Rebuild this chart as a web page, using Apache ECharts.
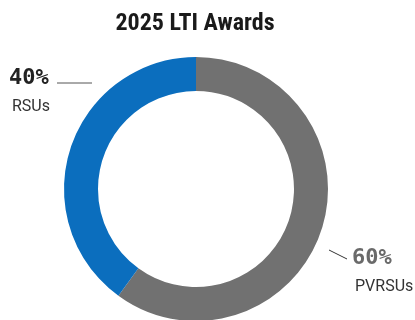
<!DOCTYPE html>
<html><head><meta charset="utf-8">
<script src="https://cdn.jsdelivr.net/npm/echarts@6/dist/echarts.min.js"></script>
<style>html,body{margin:0;padding:0;background:#fff}#c{width:415px;height:320px}</style>
</head><body><div id="c"></div>
<script>
const title = "2025 LTI Awards";
const categories = ["PVRSUs", "RSUs"];
const values = [60, 40];
const colors = ["#717171", "#0b6ebe"];
const pctColors = ["#6a6a6a", "#222222"];

const chart = echarts.init(document.getElementById('c'));
chart.setOption({
  animation: false,
  title: {
    text: title, left: 190, top: 7, textAlign: 'center',
    textStyle: {fontFamily: '"Liberation Sans Narrow", "Roboto Condensed", sans-serif', fontWeight: 'bold', fontSize: 24, color: '#1a1a1a'}
  },
  series: [{
    type: 'pie',
    center: [196, 189],
    radius: [98, 132],
    startAngle: 90,
    clockwise: true,
    silent: true,
    data: categories.map((c, i) => ({
      name: c, value: values[i],
      itemStyle: {color: colors[i]},
      label: {
        formatter: '{v|' + values[i] + '%}\n{n|' + c + '}',
        rich: {
          v: {fontFamily: '"DejaVu Sans Mono", monospace', fontWeight: 'bold', fontSize: 22, lineHeight: 27, color: pctColors[i]},
          n: {fontFamily: 'Roboto, sans-serif', fontSize: 16, lineHeight: 30, color: '#333', padding: [0, 0, 0, 3]}
        }
      },
      labelLine: {lineStyle: {color: i === 0 ? '#333' : '#555', width: 1}}
    })),
    label: {show: true, position: 'outside', align: 'left', overflow: 'none', width: 100},
    labelLine: {show: true, smooth: false},
    labelLayout: function (p) {
      if (p.dataIndex === 1) {
        return {x: 9, y: 65, align: 'left', verticalAlign: 'top',
          labelLinePoints: [[92, 83], [57, 83], [57, 83]]};
      }
      return {x: 352, y: 245, align: 'left', verticalAlign: 'top',
        labelLinePoints: [[347, 259], [329, 250], [329, 250]]};
    }
  }]
});
</script></body></html>
